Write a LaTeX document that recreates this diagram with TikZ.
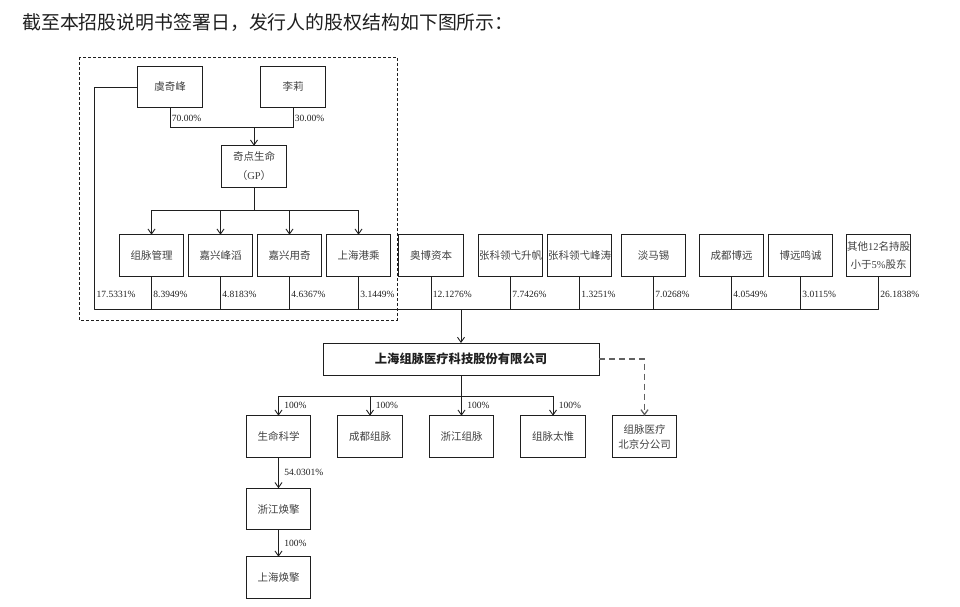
\documentclass[tikz,border=0pt]{standalone}
\usepackage{fontspec}
\setmainfont{Liberation Serif}
\newfontfamily\cjk{Noto Sans CJK SC}
\usepackage{tikz}
\usetikzlibrary{arrows.meta, positioning}
\usepackage{xcolor}
\definecolor{RichBlack}{gray}{0.12}
\definecolor{InkGray}{gray}{0.25}
\definecolor{DashGray}{gray}{0.38}
\tikzset{%
  holder_block/.style={%
    rectangle,%
    draw=RichBlack,%
    line width=1pt,%
    outer sep=0pt,%
    minimum width=64.5pt,%
    minimum height=41.5pt,%
    inner xsep=0pt,%
    text=InkGray,%
    font={\cjk\fontsize{10.5}{18}\selectfont},%
    align=center%
  },
  issuer_block/.style={%
    rectangle,%
    draw=RichBlack,%
    line width=1pt,%
    outer sep=0pt,%
    minimum width=276pt,%
    minimum height=32pt,%
    text=RichBlack,%
    font={\cjk\bfseries\fontsize{12.3}{14}\selectfont},%
    align=center%
  },
  own_path/.style={%
    color=RichBlack,%
    line join=round,%
    line width=0.9pt%
  },
  branch_path/.style={%
    color=DashGray,%
    line width=1.3pt,%
    dash pattern=on 6pt off 4pt%
  },
  frame_path/.style={%
    color=RichBlack,%
    line width=0.9pt,%
    dash pattern=on 3pt off 2pt%
  },
  pct_label/.style={%
    font={\fontsize{9.5}{11}\selectfont},%
    text=RichBlack,%
    inner sep=1.5pt,%
    right%
  },
  arrow/.style={-{Straight Barb[length=5pt, width=7pt]}},
}

\begin{document}
\begin{tikzpicture}[x=1pt, y=1pt]

    \useasboundingbox (0,0) rectangle (960,-606);

    \node [anchor=west, text=RichBlack, inner sep=0pt,
      font={\cjk\fontsize{18.9}{22}\selectfont}] (Title) at (22,-23)
      {截至本招股说明书签署日，发行人的股权结构如下图所示：};

    % founders and the GP
    \node [holder_block] (YuQF) at (170,-87) {虞奇峰};
    \node [holder_block, right = 58.5pt of YuQF] (LiLi) {李莉};
    \node [holder_block, font={\cjk\fontsize{10.5}{19}\selectfont}] (QiDian) at (254,-166.5)
      {奇点生命\\（{\rmfamily GP}）};

    % shareholders
    \node [holder_block] (ZuMaiGL) at (151.5,-255.5) {组脉管理};
    \node [holder_block, right = 4.5pt of ZuMaiGL] (JiaXingFT) {嘉兴峰滔};
    \node [holder_block, right = 4.5pt of JiaXingFT] (JiaXingYQ) {嘉兴用奇};
    \node [holder_block, right = 4.5pt of JiaXingYQ] (ShangHaiGC) {上海港乘};
    \node [holder_block, right = 8pt of ShangHaiGC] (AoBo) {奥博资本};
    \node [holder_block, right = 15pt of AoBo] (ZhangKeSF) {张科领弋升帆};
    \node [holder_block, right = 4.5pt of ZhangKeSF] (ZhangKeFT) {张科领弋峰涛};
    \node [holder_block, right = 9.5pt of ZhangKeFT] (DanMaXi) {淡马锡};
    \node [holder_block, right = 13.5pt of DanMaXi] (ChengDuBY) {成都博远};
    \node [holder_block, right = 4.5pt of ChengDuBY] (BoYuanMC) {博远鸣诚};
    \node [holder_block, right = 13.5pt of BoYuanMC] (QiTa)
      {其他{\rmfamily 12}名持股\\小于{\rmfamily 5\%}股东};

    % issuer and subsidiaries
    \node [issuer_block] (Issuer) at (461,-359) {上海组脉医疗科技股份有限公司};
    \node [holder_block] (ShengMing) at (278.5,-436.5) {生命科学};
    \node [holder_block, right = 27pt of ShengMing] (ChengDuZM) {成都组脉};
    \node [holder_block, right = 27pt of ChengDuZM] (ZheJiangZM) {浙江组脉};
    \node [holder_block, right = 27pt of ZheJiangZM] (ZuMaiTW) {组脉太惟};
    \node [holder_block, right = 27pt of ZuMaiTW, font={\cjk\fontsize{10.5}{15}\selectfont}] (BeiJing)
      {组脉医疗\\北京分公司};
    \node [holder_block, below = 31pt of ShengMing] (HuanQingZJ) {浙江焕擎};
    \node [holder_block, below = 27pt of HuanQingZJ] (HuanQingSH) {上海焕擎};

    % controlling group
    \draw [frame_path] (79,-57) rectangle (397,-320);

    \draw [own_path]
      (YuQF.south) -- node [pct_label, pos=0.55] (p_yu) {70.00\%} ++(0,-20) coordinate (yu_join);
    \draw [own_path]
      (LiLi.south) -- node [pct_label, pos=0.55] (p_li) {30.00\%} ++(0,-20) coordinate (li_join);
    \draw [own_path] (yu_join) -- (li_join);
    \draw [arrow, own_path] (QiDian.north |- yu_join) -- (QiDian.north);

    \draw [own_path] (QiDian.south) -- ++(0,-23) coordinate (gp_join);
    \draw [own_path] (ZuMaiGL.north |- gp_join) -- (ShangHaiGC.north |- gp_join);
    \draw [arrow, own_path] (ZuMaiGL.north |- gp_join) -- (ZuMaiGL.north);
    \draw [arrow, own_path] (JiaXingFT.north |- gp_join) -- (JiaXingFT.north);
    \draw [arrow, own_path] (JiaXingYQ.north |- gp_join) -- (JiaXingYQ.north);
    \draw [arrow, own_path] (ShangHaiGC.north |- gp_join) -- (ShangHaiGC.north);

    % holdings in the issuer
    \coordinate (bus_left) at (94,-309);
    \draw [own_path]
      (YuQF.west) -| (bus_left) -- (QiTa.south |- bus_left)
      -- node [pct_label, pos=0.45] (p_qt) {26.1838\%} (QiTa.south);
    \node [pct_label] (p_yu_direct) at (95,-294) {17.5331\%};
    \draw [own_path] (ZuMaiGL.south)
      -- node [pct_label, pos=0.55] (p_gm) {8.3949\%} (ZuMaiGL.south |- bus_left);
    \draw [own_path] (JiaXingFT.south)
      -- node [pct_label, pos=0.55] (p_ft) {4.8183\%} (JiaXingFT.south |- bus_left);
    \draw [own_path] (JiaXingYQ.south)
      -- node [pct_label, pos=0.55] (p_yq) {4.6367\%} (JiaXingYQ.south |- bus_left);
    \draw [own_path] (ShangHaiGC.south)
      -- node [pct_label, pos=0.55] (p_gc) {3.1449\%} (ShangHaiGC.south |- bus_left);
    \draw [own_path] (AoBo.south)
      -- node [pct_label, pos=0.55] (p_ab) {12.1276\%} (AoBo.south |- bus_left);
    \draw [own_path] (ZhangKeSF.south)
      -- node [pct_label, pos=0.55] (p_sf) {7.7426\%} (ZhangKeSF.south |- bus_left);
    \draw [own_path] (ZhangKeFT.south)
      -- node [pct_label, pos=0.55] (p_zt) {1.3251\%} (ZhangKeFT.south |- bus_left);
    \draw [own_path] (DanMaXi.south)
      -- node [pct_label, pos=0.55] (p_dm) {7.0268\%} (DanMaXi.south |- bus_left);
    \draw [own_path] (ChengDuBY.south)
      -- node [pct_label, pos=0.55] (p_cb) {4.0549\%} (ChengDuBY.south |- bus_left);
    \draw [own_path] (BoYuanMC.south)
      -- node [pct_label, pos=0.55] (p_by) {3.0115\%} (BoYuanMC.south |- bus_left);
    \draw [arrow, own_path] (Issuer.north |- bus_left) -- (Issuer.north);

    % subsidiaries
    \draw [own_path] (Issuer.south) -- ++(0,-21) coordinate (sub_join);
    \draw [own_path] (ShengMing.north |- sub_join) -- (ZuMaiTW.north |- sub_join);
    \draw [arrow, own_path] (ShengMing.north |- sub_join)
      -- node [pct_label, pos=0.5, xshift=4pt] (p_sm) {100\%} (ShengMing.north);
    \draw [arrow, own_path] (ChengDuZM.north |- sub_join)
      -- node [pct_label, pos=0.5, xshift=4pt] (p_cd) {100\%} (ChengDuZM.north);
    \draw [arrow, own_path] (ZheJiangZM.north |- sub_join)
      -- node [pct_label, pos=0.5, xshift=4pt] (p_zj) {100\%} (ZheJiangZM.north);
    \draw [arrow, own_path] (ZuMaiTW.north |- sub_join)
      -- node [pct_label, pos=0.5, xshift=4pt] (p_tw) {100\%} (ZuMaiTW.north);
    \draw [arrow, branch_path] (Issuer.east) -| (BeiJing.north);

    \draw [arrow, own_path] (ShengMing.south)
      -- node [pct_label, pos=0.5, xshift=4pt] (p_hz) {54.0301\%} (HuanQingZJ.north);
    \draw [arrow, own_path] (HuanQingZJ.south)
      -- node [pct_label, pos=0.5, xshift=4pt] (p_hs) {100\%} (HuanQingSH.north);

\end{tikzpicture}
\end{document}
